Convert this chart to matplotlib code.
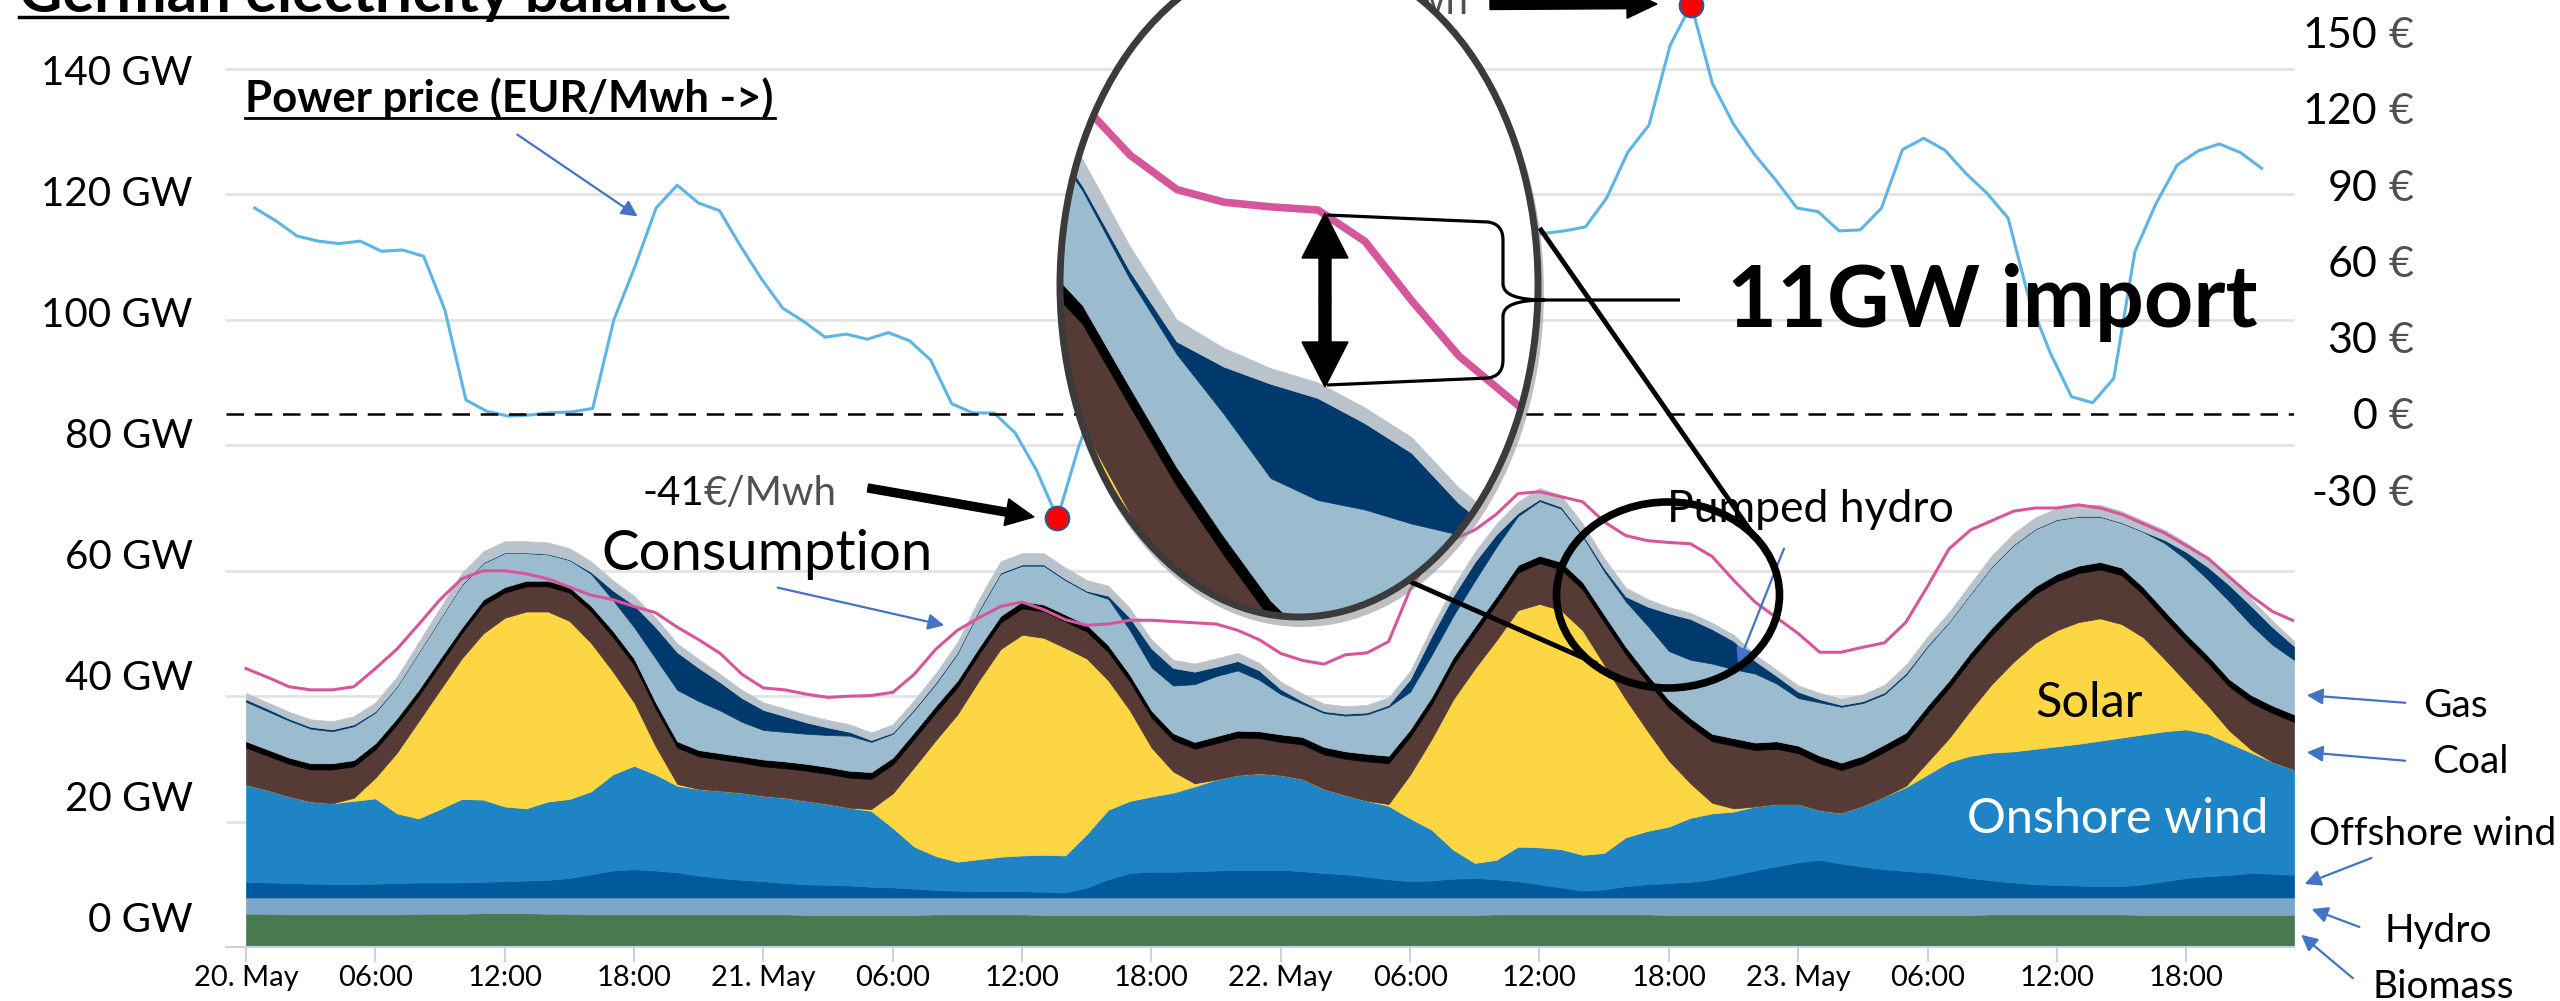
import numpy as np
import matplotlib.pyplot as plt
from matplotlib.patches import Ellipse, FancyArrow, PathPatch
from matplotlib.path import Path

plt.rcParams['font.family'] = ['Lato', 'DejaVu Sans']

# German power balance 20.-23. May, hourly values in GW
biomass = [5.3, 5.3, 5.2, 5.2, 5.2, 5.2, 5.2, 5.2, 5.3, 5.3, 5.3, 5.4, 5.4, 5.4, 5.3, 5.3, 5.2, 5.2, 5.2, 5.2, 5.2, 5.2, 5.2, 5.2,
           5.2, 5.2, 5.1, 5.1, 5.1, 5.1, 5.1, 5.1, 5.2, 5.2, 5.2, 5.2, 5.2, 5.1, 5.1, 5.1, 5.1, 5.1, 5.1, 5.1, 5.1, 5.1, 5.1, 5.1,
           5.1, 5.1, 5.1, 5.1, 5.1, 5.1, 5.1, 5.1, 5.1, 5.1, 5.2, 5.2, 5.2, 5.2, 5.2, 5.2, 5.2, 5.2, 5.1, 5.1, 5.1, 5.1, 5.1, 5.1,
           5.1, 5.1, 5.1, 5.1, 5.1, 5.1, 5.1, 5.1, 5.1, 5.2, 5.2, 5.2, 5.2, 5.2, 5.2, 5.2, 5.1, 5.1, 5.1, 5.1, 5.1, 5.1, 5.1, 5.1]
hydro = [2.6, 2.6, 2.7, 2.7, 2.7, 2.7, 2.7, 2.7, 2.6, 2.6, 2.6, 2.5, 2.5, 2.5, 2.6, 2.6, 2.7, 2.7, 2.7, 2.7, 2.7, 2.7, 2.7, 2.7,
         2.7, 2.7, 2.8, 2.8, 2.8, 2.8, 2.8, 2.8, 2.7, 2.7, 2.7, 2.7, 2.7, 2.8, 2.8, 2.8, 2.8, 2.8, 2.8, 2.8, 2.8, 2.8, 2.8, 2.8,
         2.8, 2.8, 2.8, 2.8, 2.8, 2.8, 2.8, 2.8, 2.8, 2.8, 2.7, 2.7, 2.7, 2.7, 2.7, 2.7, 2.7, 2.7, 2.8, 2.8, 2.8, 2.8, 2.8, 2.8,
         2.8, 2.8, 2.8, 2.8, 2.8, 2.8, 2.8, 2.8, 2.8, 2.7, 2.7, 2.7, 2.7, 2.7, 2.7, 2.7, 2.8, 2.8, 2.8, 2.8, 2.8, 2.8, 2.8, 2.8]
offshore = [2.5, 2.4, 2.3, 2.2, 2.1, 2.1, 2.2, 2.3, 2.4, 2.4, 2.4, 2.5, 2.6, 2.7, 2.8, 3.1, 3.7, 4.3, 4.5, 4.3, 4.0, 3.5, 3.1, 2.8,
            2.6, 2.3, 2.1, 2.0, 1.9, 1.7, 1.6, 1.4, 1.2, 1.1, 1.0, 1.0, 1.0, 0.9, 0.8, 1.6, 2.9, 3.9, 4.1, 4.1, 4.2, 4.3, 4.4, 4.4,
            4.4, 4.2, 3.9, 3.7, 3.3, 2.9, 2.6, 2.7, 3.0, 3.1, 2.9, 2.6, 2.1, 1.6, 1.1, 1.3, 1.8, 2.1, 2.3, 2.5, 2.9, 3.6, 4.3, 5.0,
            5.6, 6.0, 5.4, 4.9, 4.5, 4.2, 4.0, 3.6, 3.1, 2.7, 2.4, 2.1, 2.0, 1.9, 1.8, 1.8, 2.1, 2.6, 3.1, 3.4, 3.6, 3.9, 3.8, 3.6]
onshore = [15.5, 14.7, 13.8, 13.1, 12.9, 13.3, 13.6, 11.1, 10.2, 11.7, 13.3, 13.1, 11.9, 11.5, 12.5, 12.6, 13.2, 15.3, 16.5, 15.3, 13.8, 13.8, 13.9, 13.9,
           13.6, 13.6, 13.3, 12.9, 12.4, 12.1, 9.5, 6.7, 5.4, 4.6, 5.1, 5.5, 5.7, 5.9, 5.9, 8.5, 11.1, 11.5, 12.0, 12.6, 13.5, 14.5, 15.1, 15.4,
           15.1, 14.7, 13.4, 12.6, 12.1, 11.7, 10.0, 8.1, 4.6, 2.4, 3.1, 5.5, 5.9, 6.1, 5.7, 5.8, 7.8, 8.5, 9.0, 10.2, 10.5, 10.1, 10.2, 9.9,
           9.3, 7.9, 8.1, 9.7, 11.6, 13.4, 15.6, 18.0, 19.5, 20.4, 20.9, 21.6, 22.1, 22.6, 23.2, 23.7, 23.9, 23.9, 23.7, 22.7, 21.0, 19.2, 17.8, 16.8]
solar = [0, 0, 0, 0, 0, 0.5, 3.3, 9.7, 15.5, 19.0, 22.4, 26.5, 30.1, 31.4, 30.3, 28.4, 23.7, 16.5, 10.1, 4.5, 0.3, 0, 0, 0,
         0, 0, 0, 0, 0, 0.3, 5.5, 12.7, 18.5, 23.5, 28.5, 33.1, 35.2, 34.6, 33.1, 28.0, 20.6, 14.4, 7.8, 3.4, 0.5, 0, 0, 0,
         0, 0, 0, 0, 0, 0.3, 7.0, 14.5, 24.0, 31.0, 35.0, 37.7, 38.8, 38.1, 35.8, 30.0, 22.0, 16.0, 10.5, 5.5, 1.7, 0.5, 0, 0,
         0, 0, 0, 0, 0, 0.2, 2.0, 3.8, 7.3, 11.0, 14.3, 16.9, 18.5, 19.4, 19.5, 18.1, 15.5, 11.5, 7.5, 4.5, 2.0, 0.5, 0, 0]
lignite = [5.9, 5.5, 5.2, 5.1, 5.4, 5.0, 4.5, 4.5, 4.0, 4.0, 4.0, 4.5, 4.0, 4.0, 4.0, 4.5, 5.0, 5.5, 6.0, 6.0, 5.8, 5.2, 5.0, 4.8,
           4.7, 4.7, 4.8, 4.8, 4.8, 4.8, 4.6, 4.5, 4.4, 4.3, 4.2, 4.2, 4.2, 4.2, 4.2, 4.3, 4.5, 4.6, 4.8, 5.0, 5.5, 5.8, 6.0, 5.6,
           5.3, 5.5, 5.5, 5.8, 6.3, 6.5, 6.0, 5.5, 5.5, 5.5, 5.8, 6.0, 6.5, 6.5, 6.5, 6.8, 7.2, 7.8, 8.5, 9.2, 9.8, 10.0, 9.0, 8.8,
           8.1, 7.5, 6.8, 6.8, 7.1, 7.3, 7.8, 8.0, 8.0, 7.8, 7.8, 7.8, 7.8, 7.8, 7.8, 7.8, 6.8, 6.5, 6.5, 6.8, 7.0, 7.5, 7.8, 7.6]
hard_coal = [1.0, 1.0, 1.0, 1.0, 1.0, 1.0, 1.0, 1.0, 1.0, 1.0, 0.9, 0.9, 0.9, 0.9, 0.9, 0.9, 0.9, 1.0, 1.0, 1.0, 1.0, 1.0, 1.0, 1.0,
             1.1, 1.1, 1.1, 1.1, 1.1, 1.1, 1.1, 1.1, 1.1, 1.1, 1.1, 1.1, 1.1, 1.1, 1.1, 1.1, 1.1, 1.1, 1.1, 1.1, 1.1, 1.1, 1.1, 1.1,
             1.2, 1.2, 1.2, 1.2, 1.2, 1.2, 1.2, 1.2, 1.2, 1.2, 1.2, 1.2, 1.2, 1.2, 1.2, 1.2, 1.2, 1.2, 1.2, 1.2, 1.2, 1.2, 1.2, 1.2,
             1.2, 1.2, 1.2, 1.2, 1.2, 1.2, 1.2, 1.2, 1.2, 1.2, 1.2, 1.2, 1.2, 1.2, 1.2, 1.2, 1.2, 1.2, 1.2, 1.2, 1.2, 1.2, 1.2, 1.2]
gas = [6.3, 6.1, 5.9, 5.5, 5.1, 5.4, 4.9, 5.0, 5.9, 6.3, 6.8, 5.8, 5.4, 4.4, 4.2, 4.3, 5.1, 4.9, 5.0, 7.0, 8.2, 7.8, 6.8, 5.5,
       4.7, 4.7, 4.8, 5.1, 5.6, 4.8, 3.8, 3.5, 3.5, 4.3, 5.8, 6.7, 5.7, 6.2, 5.5, 5.2, 7.4, 7.1, 6.9, 7.6, 9.2, 9.6, 9.6, 8.2,
       6.4, 5.3, 5.4, 5.7, 6.3, 7.8, 6.0, 6.7, 6.6, 7.3, 7.9, 7.8, 8.7, 8.5, 7.3, 6.9, 7.2, 7.8, 7.8, 9.3, 11.2, 11.0, 11.0, 9.2,
       7.6, 8.5, 8.9, 8.4, 8.0, 9.2, 9.4, 9.3, 9.3, 9.7, 9.6, 9.1, 8.6, 7.8, 7.2, 7.1, 8.8, 10.8, 11.9, 12.1, 12.4, 11.2, 9.7, 8.7]
pumped_hydro = [0.4, 0.4, 0.3, 0.3, 0.3, 0.3, 0.2, 0.1, 0.1, 0.1, 0.1, 0.1, 0.1, 0.1, 0.1, 0.1, 0.3, 1.5, 3.5, 5.0, 6.0, 5.3, 4.5, 3.8,
                3.2, 2.5, 1.8, 1.2, 0.6, 0.3, 0.2, 0.2, 0.2, 0.2, 0.2, 0.2, 0.2, 0.2, 0.2, 0.2, 0.5, 2.0, 3.0, 2.8, 2.0, 1.5, 1.5, 1.5,
                0.8, 0.4, 0.3, 0.3, 0.3, 0.3, 2.0, 3.0, 3.2, 3.0, 2.0, 0.5, 0.3, 0.3, 0.3, 0.5, 0.8, 3.0, 6.0, 6.5, 5.5, 4.5, 2.0, 1.2,
                1.0, 0.5, 0.3, 0.3, 0.3, 0.3, 0.2, 0.1, 0.1, 0.1, 0.1, 0.1, 0.1, 0.1, 0.1, 0.1, 0.1, 0.5, 1.2, 2.0, 2.6, 3.0, 2.8, 2.2]
other = [1.0, 1.0, 1.1, 1.2, 1.3, 1.3, 1.4, 1.5, 1.6, 1.7, 1.8, 1.8, 1.8, 1.8, 1.8, 1.8, 1.7, 1.6, 1.5, 1.5, 1.4, 1.4, 1.3, 1.3,
         1.2, 1.2, 1.2, 1.2, 1.2, 1.2, 1.3, 1.4, 1.5, 1.6, 1.7, 1.8, 1.8, 1.8, 1.8, 1.7, 1.6, 1.5, 1.4, 1.3, 1.3, 1.3, 1.3, 1.2,
         1.2, 1.2, 1.2, 1.2, 1.2, 1.2, 1.3, 1.4, 1.5, 1.6, 1.7, 1.8, 1.8, 1.8, 1.7, 1.6, 1.4, 1.2, 1.0, 1.0, 1.0, 1.0, 1.0, 1.0,
         1.0, 1.0, 1.0, 1.1, 1.2, 1.3, 1.4, 1.5, 1.6, 1.7, 1.8, 1.8, 1.8, 1.8, 1.8, 1.8, 1.7, 1.6, 1.5, 1.4, 1.3, 1.1, 1.0, 0.8]
consumption = [44.4, 43.0, 41.5, 41.0, 41.0, 41.5, 44.4, 47.5, 51.4, 55.4, 58.7, 60.0, 60.0, 59.5, 58.7, 57.4, 56.1, 55.4, 54.3, 53.3, 51.0, 49.0, 46.8, 43.5,
               41.3, 41.0, 40.3, 39.8, 40.0, 40.1, 40.6, 43.5, 47.5, 50.5, 52.5, 54.3, 55.0, 53.8, 52.2, 51.3, 51.5, 52.1, 52.1, 51.9, 51.7, 51.5, 50.5, 49.0,
               46.8, 45.7, 45.1, 46.6, 46.9, 48.7, 57.0, 62.5, 65.0, 66.5, 69.0, 72.3, 72.6, 71.8, 71.0, 67.8, 65.6, 64.8, 64.5, 64.3, 62.3, 58.5, 55.0, 52.5,
               50.0, 47.0, 47.0, 47.8, 48.5, 51.8, 57.5, 63.5, 66.5, 68.0, 69.5, 70.0, 70.0, 70.5, 70.0, 69.0, 67.5, 66.0, 64.0, 62.0, 59.0, 56.0, 53.5, 52.0]
# day-ahead price, EUR/MWh
price = [81, 76, 70, 68, 67, 68, 64, 64.5, 62, 41, 5.5, 1, -0.8, -0.4, 0.5, 0.8, 2.2, 37, 58, 81,
         90, 83, 80, 66, 53, 41.6, 36.3, 30.2, 31.4, 29.4, 32, 28.8, 21.2, 4, 0.4, 0.4, -7.5, -22, -41, -13,
         10, 35, 60, 80, 95, 100, 98, 92, 85, 80, 78, 78, 82, 90, 92, 88, 80, 75, 72, 70,
         70, 71, 72, 73.6, 85, 103, 113.6, 145, 161, 130, 114, 102, 92, 81, 79.6, 72, 72.4, 80.9, 104, 108.4,
         103.8, 94.6, 86.8, 77, 44.8, 23.9, 6.8, 4.4, 14, 63.8, 82.8, 97.9, 103.5, 106.2, 102.8, 96.6]

tick_labels = ['20. May', '06:00', '12:00', '18:00', '21. May', '06:00', '12:00', '18:00',
               '22. May', '06:00', '12:00', '18:00', '23. May', '06:00', '12:00', '18:00']
gw_ticks = [0, 20, 40, 60, 80, 100, 120, 140]
eur_ticks = [-30, 0, 30, 60, 90, 120, 150]

hours = np.arange(96)
price_hours = np.linspace(0.4, 93.5, 96)
layers = [biomass, hydro, offshore, onshore, solar, lignite, hard_coal, gas, pumped_hydro, other]
colors = ['#497a4f', '#7ba7c9', '#005a9b', '#1f84c6', '#fdd643', '#553a35', '#000000', '#9bbccf', '#003a6c', '#b9c3cc']
pink = '#d6569c'
arrow_blue = '#4472c4'

W, H = 2560, 1001
fig = plt.figure(figsize=(W / 100, H / 100), dpi=100)


def px_box(x0, y0, x1, y1):
    # pixel box measured from the top left -> figure fraction
    return [x0 / W, 1 - y1 / H, (x1 - x0) / W, (y1 - y0) / H]


def draw_stack(a, line_w):
    arts = []
    base = np.zeros(len(hours))
    for vals, col in zip(layers, colors):
        top = base + np.array(vals)
        arts.append(a.fill_between(hours, base, top, color=col, lw=0.5))
        base = top
    arts += a.plot(hours, consumption, color=pink, lw=line_w)
    return arts


# main chart
ax = fig.add_axes(px_box(226, 0, 2294, 947))
draw_stack(ax, 2.2)
ax.set_xlim(-0.93, 95)
ax.set_ylim(0, 151.0)
ax.set_yticks(gw_ticks)
ax.grid(axis='y', color='#e3e3e3', lw=2)
ax.set_axisbelow(True)
ax.tick_params(axis='y', length=0, labelleft=False)
ax.set_xticks(hours[::6])
ax.set_xticklabels(tick_labels)
ax.tick_params(axis='x', length=11, width=1.5, color='#c8d2e6', pad=2, labelsize=21)
for s in ['left', 'right', 'top']:
    ax.spines[s].set_visible(False)
ax.spines['bottom'].set_color('#c8d2e6')
ax.spines['bottom'].set_linewidth(1.5)

# the GW labels of the original sit on a slightly tighter scale than its grid
axl = ax.twinx()
axl.yaxis.tick_left()
axl.set_ylim(-4.96, 151.6)
axl.set_yticks(gw_ticks)
axl.set_yticklabels([f'{v} GW' for v in gw_ticks])
axl.tick_params(axis='y', length=0, pad=24, labelsize=29)

# price on the right axis
ax2 = ax.twinx()
ax2.set_ylim(-209.6, 162.8)
ax2.plot(price_hours, price, color='#5db5e6', lw=2.2)
ax2.axhline(0, color='k', lw=1.8, ls=(0, (7, 4.3)))
imin, imax = int(np.argmin(price)), int(np.argmax(price))
ax2.plot(price_hours[[imin, imax]], [price[imin], price[imax]], 'o', ms=17, mfc='#ff0000',
         mec='#2f5597', mew=1.5, clip_on=False, zorder=5)
ax2.set_yticks(eur_ticks)
ax2.set_yticklabels([str(v) for v in eur_ticks])
ax2.tick_params(axis='y', length=0, pad=60, labelsize=31)
for t in ax2.get_yticklabels():
    t.set_ha('right')

ax3 = ax.twinx()
ax3.set_ylim(ax2.get_ylim())
ax3.set_yticks(eur_ticks)
ax3.set_yticklabels(['€'] * len(eur_ticks))
ax3.tick_params(axis='y', length=0, pad=86, labelsize=31, labelcolor='#4d5156')
for t in ax3.get_yticklabels():
    t.set_ha('right')
for a in (axl, ax2, ax3):
    for s in a.spines.values():
        s.set_visible(False)

# annotation layer in pixel coordinates
ov = fig.add_axes([0, 0, 1, 1], zorder=5)
ov.set_xlim(0, W)
ov.set_ylim(H, 0)
ov.axis('off')
ov.patch.set_visible(False)

ov.text(19, 12, 'German electricity balance', fontsize=43, fontweight='bold', va='baseline')
ov.plot([19, 727], [16.5, 16.5], color='k', lw=2.5)
ov.text(245, 112, 'Power price (EUR/Mwh ->)', fontsize=31.5, fontweight='bold', va='baseline')
ov.plot([245, 775], [117.5, 117.5], color='k', lw=2)
ov.annotate('', xy=(640, 218), xytext=(515, 133),
            arrowprops=dict(arrowstyle='-|>', color=arrow_blue, lw=1.6, mutation_scale=24))

ov.text(704, 505, f'{price[imin]:.0f}', fontsize=29, ha='right', va='baseline')
ov.text(704, 505, '€/Mwh', fontsize=29, color='#4d5156', va='baseline')
ov.add_patch(FancyArrow(868, 488, 166, 29, width=8, head_width=27, head_length=28,
                        length_includes_head=True, color='k'))
ov.text(1336, 14, f'{price[imax]:.0f}', fontsize=29, ha='right', va='baseline', zorder=1)
ov.text(1336, 14, '€/Mwh', fontsize=29, color='#4d5156', va='baseline', zorder=1)
ov.add_patch(FancyArrow(1490, 5, 167, -1, width=9, head_width=28, head_length=30,
                        length_includes_head=True, color='k'))

ov.text(601, 570, 'Consumption', fontsize=40.5, va='baseline')
ov.annotate('', xy=(947, 626), xytext=(775, 587),
            arrowprops=dict(arrowstyle='-|>', color=arrow_blue, lw=1.6, mutation_scale=24))
ov.text(1667, 522, 'Pumped hydro', fontsize=32, va='baseline')
ov.annotate('', xy=(1737, 667), xytext=(1785, 546),
            arrowprops=dict(arrowstyle='-|>', color=arrow_blue, lw=1.6, mutation_scale=24))

ov.text(2035, 717, 'Solar', fontsize=35, va='baseline')
ov.text(1967, 833, 'Onshore wind', fontsize=35, color='white', va='baseline')
side = [('Gas', 2423, 717, (2408, 703), (2304, 695)),
        ('Coal', 2432, 773, (2408, 761), (2304, 752)),
        ('Offshore wind', 2309, 845, (2374, 857), (2302, 885)),
        ('Hydro', 2384, 942, (2362, 928), (2309, 908)),
        ('Biomass', 2373, 998, (2355, 980), (2299, 933))]
for name, tx, ty, a0, a1 in side:
    ov.text(tx, ty, name, fontsize=28, va='baseline')
    ov.annotate('', xy=a1, xytext=a0,
                arrowprops=dict(arrowstyle='-|>', color=arrow_blue, lw=1.6, mutation_scale=24))

# small circle and connector lines
ov.add_patch(Ellipse((1668, 595), 223, 186, fill=False, ec='k', lw=5.5, zorder=3))
ov.plot([1541, 1757], [230, 540], color='k', lw=3.5, zorder=3)
ov.plot([1402, 1595], [578, 663], color='k', lw=3.5, zorder=3)

# magnifier: shadow + white face, then the zoomed chart clipped to the ellipse
cx, cy, ew, eh = 1299, 285, 478, 664
ov.add_patch(Ellipse((cx + 3, cy + 7), ew + 6, eh + 6, color='#8c8c8c', alpha=0.55, lw=0, zorder=2))
ov.add_patch(Ellipse((cx, cy), ew, eh, color='white', lw=0, zorder=2))

ov2 = fig.add_axes([0, 0, 1, 1], zorder=7)
ov2.set_xlim(0, W)
ov2.set_ylim(H, 0)
ov2.axis('off')
ov2.patch.set_visible(False)
clip = Ellipse((cx, cy), ew, eh, transform=ov2.transData)

lx = fig.add_axes(px_box(1060, -47, 1538, 617), zorder=6)
lx.axis('off')
lx.patch.set_visible(False)
for art in draw_stack(lx, 5.5):
    art.set_clip_path(clip)
lx.set_xlim(61.51, 71.68)
lx.set_ylim(38.38, 80.67)

ov2.add_patch(Ellipse((cx, cy), ew, eh, fill=False, ec='#3b3b3b', lw=5))

# 11 GW import marker
ov2.add_patch(FancyArrow(1325, 300, 0, -87, width=12, head_width=46, head_length=45,
                         length_includes_head=True, color='k'))
ov2.add_patch(FancyArrow(1325, 300, 0, 87, width=12, head_width=46, head_length=45,
                         length_includes_head=True, color='k'))
brace = Path([(1327, 215), (1488, 222), (1503, 224), (1503, 240), (1503, 284), (1503, 300), (1545, 300),
              (1680, 300),
              (1545, 300), (1503, 300), (1503, 316), (1503, 360), (1503, 376), (1488, 378), (1327, 385)],
             [Path.MOVETO, Path.LINETO, Path.CURVE3, Path.CURVE3, Path.LINETO, Path.CURVE3, Path.CURVE3,
              Path.LINETO,
              Path.MOVETO, Path.CURVE3, Path.CURVE3, Path.LINETO, Path.CURVE3, Path.CURVE3, Path.LINETO])
ov2.add_patch(PathPatch(brace, fill=False, ec='k', lw=2.3))
ov2.text(1727, 327, '11GW import', fontsize=62, fontweight='bold', va='baseline')

fig.savefig('out.png', dpi=100)
